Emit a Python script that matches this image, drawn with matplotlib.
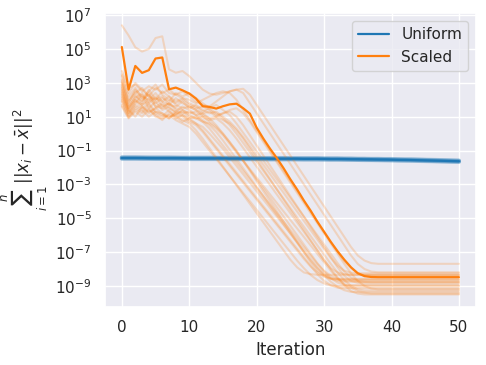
import numpy as np
import matplotlib
matplotlib.use("Agg")
import matplotlib.pyplot as plt
import seaborn as sns

iterations = list(range(51))

# ---- values are log10 of sum ||x_i - xbar||^2 ----
uniform_mean = [
    -1.44, -1.44, -1.44, -1.44, -1.45, -1.45, -1.45, -1.45, -1.45, -1.45,
    -1.46, -1.46, -1.46, -1.46, -1.46, -1.46, -1.47, -1.47, -1.47, -1.47,
    -1.47, -1.47, -1.48, -1.48, -1.48, -1.48, -1.48, -1.49, -1.49, -1.49,
    -1.49, -1.50, -1.50, -1.50, -1.51, -1.51, -1.52, -1.52, -1.53, -1.53,
    -1.54, -1.55, -1.55, -1.56, -1.57, -1.58, -1.59, -1.60, -1.61, -1.62,
    -1.63]
uniform_run_a = [
    -1.40, -1.40, -1.40, -1.41, -1.41, -1.41, -1.41, -1.41, -1.42, -1.42,
    -1.42, -1.42, -1.42, -1.42, -1.43, -1.43, -1.43, -1.43, -1.43, -1.43,
    -1.44, -1.44, -1.44, -1.44, -1.44, -1.45, -1.45, -1.45, -1.45, -1.45,
    -1.46, -1.46, -1.46, -1.47, -1.47, -1.48, -1.48, -1.49, -1.49, -1.50,
    -1.50, -1.51, -1.52, -1.52, -1.53, -1.54, -1.55, -1.56, -1.57, -1.58,
    -1.59]
uniform_run_b = [
    -1.48, -1.48, -1.48, -1.48, -1.48, -1.49, -1.49, -1.49, -1.49, -1.49,
    -1.50, -1.50, -1.50, -1.50, -1.50, -1.50, -1.51, -1.51, -1.51, -1.51,
    -1.51, -1.51, -1.52, -1.52, -1.52, -1.52, -1.52, -1.53, -1.53, -1.53,
    -1.53, -1.54, -1.54, -1.54, -1.55, -1.55, -1.56, -1.56, -1.57, -1.57,
    -1.58, -1.59, -1.59, -1.60, -1.61, -1.62, -1.63, -1.64, -1.65, -1.66,
    -1.67]
uniform_run_c = [
    -1.42, -1.42, -1.42, -1.42, -1.43, -1.43, -1.43, -1.43, -1.43, -1.44,
    -1.44, -1.44, -1.44, -1.44, -1.44, -1.45, -1.45, -1.45, -1.45, -1.45,
    -1.46, -1.46, -1.46, -1.46, -1.46, -1.47, -1.47, -1.47, -1.47, -1.47,
    -1.48, -1.48, -1.48, -1.49, -1.49, -1.50, -1.50, -1.51, -1.51, -1.52,
    -1.52, -1.53, -1.54, -1.54, -1.55, -1.56, -1.57, -1.58, -1.59, -1.60,
    -1.61]
uniform_run_d = [
    -1.46, -1.46, -1.46, -1.47, -1.47, -1.47, -1.47, -1.47, -1.47, -1.48,
    -1.48, -1.48, -1.48, -1.48, -1.48, -1.49, -1.49, -1.49, -1.49, -1.49,
    -1.49, -1.50, -1.50, -1.50, -1.50, -1.50, -1.51, -1.51, -1.51, -1.51,
    -1.52, -1.52, -1.52, -1.53, -1.53, -1.54, -1.54, -1.55, -1.55, -1.56,
    -1.56, -1.57, -1.58, -1.58, -1.59, -1.60, -1.61, -1.62, -1.63, -1.64,
    -1.65]

scaled_mean = [
    5.12, 2.60, 4.00, 3.59, 3.75, 4.44, 4.50, 2.62, 2.72, 2.56,
    2.37, 2.07, 1.62, 1.58, 1.48, 1.62, 1.73, 1.77, 1.50, 1.18,
    0.35, -0.30, -0.90, -1.45, -2.05, -2.70, -3.30, -3.95, -4.55, -5.20,
    -5.80, -6.40, -6.95, -7.45, -7.90, -8.25, -8.42, -8.47, -8.48, -8.48,
    -8.48, -8.48, -8.48, -8.48, -8.48, -8.48, -8.48, -8.48, -8.48, -8.48,
    -8.48]

scaled_run_01 = [
    6.40, 5.80, 5.10, 4.85, 5.00, 5.65, 5.75, 3.80, 3.60, 3.70,
    3.40, 3.00, 2.60, 2.37, 2.30, 2.40, 2.50, 2.60, 2.65, 2.30,
    1.70, 1.10, 0.50, -0.10, -0.70, -1.30, -1.90, -2.50, -3.10, -3.70,
    -4.30, -4.90, -5.50, -6.10, -6.70, -7.20, -7.50, -7.65, -7.69, -7.69,
    -7.69, -7.69, -7.69, -7.69, -7.69, -7.69, -7.69, -7.69, -7.69, -7.69,
    -7.69]
scaled_run_02 = [
    3.70, 2.70, 2.90, 2.50, 2.80, 2.60, 2.90, 2.40, 2.30, 2.50,
    2.20, 1.90, 1.70, 1.60, 1.90, 2.20, 2.50, 2.60, 2.40, 1.80,
    1.20, 0.60, 0.00, -0.60, -1.20, -1.80, -2.40, -3.00, -3.60, -4.20,
    -4.80, -5.40, -6.00, -6.60, -7.20, -7.70, -8.00, -8.15, -8.19, -8.19,
    -8.19, -8.19, -8.19, -8.19, -8.19, -8.19, -8.19, -8.19, -8.19, -8.19,
    -8.19]
scaled_run_03 = [
    3.20, 1.80, 2.60, 2.20, 2.00, 2.40, 1.90, 1.70, 2.10, 1.80,
    1.60, 1.40, 1.20, 1.30, 1.00, 0.80, 0.60, 0.20, -0.30, -0.90,
    -1.50, -2.10, -2.70, -3.30, -3.90, -4.50, -5.10, -5.70, -6.30, -6.90,
    -7.50, -7.95, -8.20, -8.30, -8.34, -8.34, -8.34, -8.34, -8.34, -8.34,
    -8.34, -8.34, -8.34, -8.34, -8.34, -8.34, -8.34, -8.34, -8.34, -8.34,
    -8.34]
scaled_run_04 = [
    2.90, 1.50, 2.20, 1.90, 2.40, 1.60, 1.80, 1.50, 1.30, 1.60,
    1.40, 1.10, 1.20, 0.90, 0.50, 0.00, -0.50, -1.00, -1.60, -2.20,
    -2.80, -3.40, -4.00, -4.60, -5.20, -5.80, -6.40, -7.00, -7.60, -8.10,
    -8.40, -8.55, -8.58, -8.58, -8.58, -8.58, -8.58, -8.58, -8.58, -8.58,
    -8.58, -8.58, -8.58, -8.58, -8.58, -8.58, -8.58, -8.58, -8.58, -8.58,
    -8.58]
scaled_run_05 = [
    2.50, 1.20, 1.80, 2.30, 1.50, 1.90, 1.40, 1.60, 1.20, 1.30,
    1.00, 0.90, 0.70, 0.30, -0.20, -0.70, -1.20, -1.70, -2.20, -2.70,
    -3.20, -3.70, -4.20, -4.70, -5.20, -5.70, -6.20, -6.70, -7.20, -7.70,
    -8.10, -8.40, -8.60, -8.68, -8.68, -8.68, -8.68, -8.68, -8.68, -8.68,
    -8.68, -8.68, -8.68, -8.68, -8.68, -8.68, -8.68, -8.68, -8.68, -8.68,
    -8.68]
scaled_run_06 = [
    3.40, 2.20, 2.70, 2.10, 2.50, 2.90, 2.30, 2.00, 1.80, 2.00,
    1.70, 1.50, 1.60, 1.40, 1.10, 1.20, 1.30, 1.00, 0.50, -0.10,
    -0.70, -1.30, -1.90, -2.50, -3.10, -3.70, -4.30, -4.90, -5.50, -6.10,
    -6.70, -7.30, -7.90, -8.40, -8.70, -8.82, -8.84, -8.84, -8.84, -8.84,
    -8.84, -8.84, -8.84, -8.84, -8.84, -8.84, -8.84, -8.84, -8.84, -8.84,
    -8.84]
scaled_run_07 = [
    2.00, 1.00, 1.50, 1.30, 1.70, 1.20, 1.00, 1.40, 0.90, 1.10,
    0.80, 0.60, 0.20, -0.30, -0.80, -1.30, -1.80, -2.30, -2.80, -3.30,
    -3.80, -4.30, -4.80, -5.30, -5.80, -6.30, -6.80, -7.30, -7.80, -8.30,
    -8.70, -8.95, -9.10, -9.13, -9.13, -9.13, -9.13, -9.13, -9.13, -9.13,
    -9.13, -9.13, -9.13, -9.13, -9.13, -9.13, -9.13, -9.13, -9.13, -9.13,
    -9.13]
scaled_run_08 = [
    3.00, 1.90, 2.40, 2.70, 2.20, 2.00, 2.50, 2.20, 1.90, 2.10,
    1.80, 1.60, 1.30, 1.50, 1.20, 0.90, 0.50, 0.00, -0.55, -1.10,
    -1.65, -2.20, -2.75, -3.30, -3.85, -4.40, -4.95, -5.50, -6.05, -6.60,
    -7.15, -7.70, -8.20, -8.65, -9.00, -9.20, -9.27, -9.27, -9.27, -9.27,
    -9.27, -9.27, -9.27, -9.27, -9.27, -9.27, -9.27, -9.27, -9.27, -9.27,
    -9.27]
scaled_run_09 = [
    1.60, 0.90, 1.30, 1.00, 1.40, 1.10, 0.80, 1.20, 1.00, 0.70,
    0.90, 0.60, 0.40, 0.00, -0.45, -0.90, -1.40, -1.90, -2.40, -2.90,
    -3.40, -3.90, -4.40, -4.90, -5.40, -5.90, -6.40, -6.90, -7.40, -7.90,
    -8.35, -8.75, -9.05, -9.25, -9.35, -9.37, -9.37, -9.37, -9.37, -9.37,
    -9.37, -9.37, -9.37, -9.37, -9.37, -9.37, -9.37, -9.37, -9.37, -9.37,
    -9.37]
scaled_run_10 = [
    2.70, 1.40, 2.00, 1.70, 1.90, 2.20, 1.60, 1.80, 1.50, 1.40,
    1.20, 1.30, 1.00, 0.80, 0.90, 0.60, 0.20, -0.30, -0.85, -1.40,
    -1.95, -2.50, -3.05, -3.60, -4.15, -4.70, -5.25, -5.80, -6.35, -6.90,
    -7.45, -8.00, -8.50, -8.95, -9.30, -9.45, -9.50, -9.50, -9.50, -9.50,
    -9.50, -9.50, -9.50, -9.50, -9.50, -9.50, -9.50, -9.50, -9.50, -9.50,
    -9.50]
scaled_run_11 = [
    3.50, 2.40, 3.00, 2.60, 2.20, 2.70, 2.40, 2.60, 2.30, 2.10,
    2.00, 1.80, 2.00, 2.20, 2.40, 2.50, 2.40, 2.00, 1.40, 0.80,
    0.20, -0.40, -1.00, -1.60, -2.20, -2.80, -3.40, -4.00, -4.60, -5.20,
    -5.80, -6.40, -7.00, -7.55, -7.95, -8.25, -8.37, -8.40, -8.40, -8.40,
    -8.40, -8.40, -8.40, -8.40, -8.40, -8.40, -8.40, -8.40, -8.40, -8.40,
    -8.40]
scaled_run_12 = [
    2.30, 1.30, 1.90, 1.60, 1.20, 1.50, 1.70, 1.30, 1.10, 1.40,
    1.10, 0.90, 1.00, 0.70, 0.40, 0.00, -0.50, -1.05, -1.60, -2.15,
    -2.70, -3.25, -3.80, -4.35, -4.90, -5.45, -6.00, -6.55, -7.10, -7.65,
    -8.15, -8.55, -8.80, -8.92, -8.95, -8.95, -8.95, -8.95, -8.95, -8.95,
    -8.95, -8.95, -8.95, -8.95, -8.95, -8.95, -8.95, -8.95, -8.95, -8.95,
    -8.95]
scaled_run_13 = [
    1.90, 1.10, 1.60, 1.40, 1.00, 1.30, 1.10, 0.90, 1.20, 1.00,
    0.70, 0.50, 0.10, -0.40, -0.90, -1.40, -1.90, -2.40, -2.90, -3.40,
    -3.90, -4.40, -4.90, -5.40, -5.90, -6.40, -6.90, -7.40, -7.85, -8.20,
    -8.45, -8.58, -8.62, -8.62, -8.62, -8.62, -8.62, -8.62, -8.62, -8.62,
    -8.62, -8.62, -8.62, -8.62, -8.62, -8.62, -8.62, -8.62, -8.62, -8.62,
    -8.62]
scaled_run_14 = [
    2.10, 1.20, 1.70, 1.50, 1.80, 1.30, 1.20, 1.00, 1.10, 0.80,
    0.60, 0.20, -0.30, -0.85, -1.40, -1.95, -2.50, -3.05, -3.60, -4.15,
    -4.70, -5.25, -5.80, -6.35, -6.90, -7.45, -7.90, -8.20, -8.30, -8.34,
    -8.34, -8.34, -8.34, -8.34, -8.34, -8.34, -8.34, -8.34, -8.34, -8.34,
    -8.34, -8.34, -8.34, -8.34, -8.34, -8.34, -8.34, -8.34, -8.34, -8.34,
    -8.34]
scaled_run_15 = [
    1.70, 0.95, 1.40, 1.20, 1.50, 1.00, 0.90, 1.10, 0.80, 0.60,
    0.40, 0.00, -0.50, -1.00, -1.50, -2.00, -2.50, -3.00, -3.50, -4.00,
    -4.50, -5.00, -5.50, -6.00, -6.50, -7.00, -7.50, -7.95, -8.35, -8.65,
    -8.85, -8.97, -9.00, -9.00, -9.00, -9.00, -9.00, -9.00, -9.00, -9.00,
    -9.00, -9.00, -9.00, -9.00, -9.00, -9.00, -9.00, -9.00, -9.00, -9.00,
    -9.00]
scaled_run_16 = [
    2.60, 1.60, 2.10, 2.40, 1.80, 2.10, 1.90, 2.20, 1.70, 1.50,
    1.60, 1.40, 1.10, 0.90, 1.00, 1.20, 1.40, 1.50, 1.20, 0.70,
    0.10, -0.50, -1.10, -1.70, -2.30, -2.90, -3.50, -4.10, -4.70, -5.30,
    -5.90, -6.50, -7.10, -7.70, -8.25, -8.70, -9.00, -9.15, -9.20, -9.20,
    -9.20, -9.20, -9.20, -9.20, -9.20, -9.20, -9.20, -9.20, -9.20, -9.20,
    -9.20]
scaled_run_17 = [
    3.10, 2.00, 2.50, 2.00, 2.30, 1.80, 2.10, 1.90, 2.40, 2.20,
    2.40, 2.10, 1.80, 1.50, 1.70, 1.40, 1.10, 0.60, 0.05, -0.50,
    -1.05, -1.60, -2.15, -2.70, -3.25, -3.80, -4.35, -4.90, -5.45, -6.00,
    -6.55, -7.10, -7.65, -8.15, -8.50, -8.70, -8.76, -8.78, -8.78, -8.78,
    -8.78, -8.78, -8.78, -8.78, -8.78, -8.78, -8.78, -8.78, -8.78, -8.78,
    -8.78]
scaled_run_18 = [
    2.20, 1.40, 1.00, 1.60, 1.30, 1.50, 1.20, 0.90, 1.30, 1.10,
    0.90, 1.00, 0.70, 0.60, 0.30, -0.10, -0.60, -1.10, -1.60, -2.10,
    -2.60, -3.10, -3.60, -4.10, -4.60, -5.10, -5.60, -6.10, -6.60, -7.10,
    -7.60, -8.10, -8.55, -8.90, -9.10, -9.30, -9.40, -9.45, -9.45, -9.45,
    -9.45, -9.45, -9.45, -9.45, -9.45, -9.45, -9.45, -9.45, -9.45, -9.45,
    -9.45]
scaled_run_19 = [
    2.80, 1.70, 2.30, 1.80, 2.60, 2.00, 2.20, 1.70, 1.60, 1.90,
    1.50, 1.70, 1.40, 1.20, 1.30, 1.00, 0.70, 0.30, -0.20, -0.75,
    -1.30, -1.85, -2.40, -2.95, -3.50, -4.05, -4.60, -5.15, -5.70, -6.25,
    -6.80, -7.35, -7.80, -8.10, -8.22, -8.25, -8.25, -8.25, -8.25, -8.25,
    -8.25, -8.25, -8.25, -8.25, -8.25, -8.25, -8.25, -8.25, -8.25, -8.25,
    -8.25]
scaled_run_20 = [
    2.40, 1.50, 2.00, 1.70, 2.10, 1.60, 1.50, 1.80, 1.40, 1.20,
    1.30, 1.10, 0.80, 0.50, 0.10, -0.40, -0.95, -1.50, -2.05, -2.60,
    -3.15, -3.70, -4.25, -4.80, -5.35, -5.90, -6.45, -7.00, -7.50, -7.95,
    -8.30, -8.55, -8.70, -8.75, -8.75, -8.75, -8.75, -8.75, -8.75, -8.75,
    -8.75, -8.75, -8.75, -8.75, -8.75, -8.75, -8.75, -8.75, -8.75, -8.75,
    -8.75]

uniform_runs = (uniform_run_a, uniform_run_b, uniform_run_c, uniform_run_d)
scaled_runs = (scaled_run_01, scaled_run_02, scaled_run_03, scaled_run_04,
               scaled_run_05, scaled_run_06, scaled_run_07, scaled_run_08,
               scaled_run_09, scaled_run_10, scaled_run_11, scaled_run_12,
               scaled_run_13, scaled_run_14, scaled_run_15, scaled_run_16,
               scaled_run_17, scaled_run_18, scaled_run_19, scaled_run_20)

series_labels = ["Uniform", "Scaled"]
blue = "#1f77b4"
orange = "#ff7f0e"

sns.set_theme(style="darkgrid")
plt.rcParams['font.family'] = ['DejaVu Sans']

fig = plt.figure(figsize=(4.86, 3.65), dpi=100)
ax = fig.add_axes([0.216, 0.159, 0.763, 0.805])

x = np.array(iterations)
for run in uniform_runs:
    ax.plot(x, 10.0 ** np.array(run), color=blue, alpha=0.3, lw=3.0)
for run in scaled_runs:
    ax.plot(x, 10.0 ** np.array(run), color=orange, alpha=0.22, lw=1.5)
ax.plot(x, 10.0 ** np.array(uniform_mean), color=blue, lw=1.6, label=series_labels[0])
ax.plot(x, 10.0 ** np.array(scaled_mean), color=orange, lw=1.6, label=series_labels[1])

ax.set_yscale("log")
ax.set_ylim(10 ** -10.24, 10 ** 7.12)
ax.set_xlim(-2.5, 52.5)
ax.set_yticks([10.0 ** k for k in (7, 5, 3, 1, -1, -3, -5, -7, -9)])
ax.yaxis.set_minor_locator(matplotlib.ticker.NullLocator())
ax.set_xticks([0, 10, 20, 30, 40, 50])
ax.set_xlabel("Iteration")
ax.set_ylabel(r"$\sum_{i=1}^{n}\,||x_i - \bar{x}||^2$")
ax.legend(loc="upper right")

fig.savefig("out.png", dpi=100)
